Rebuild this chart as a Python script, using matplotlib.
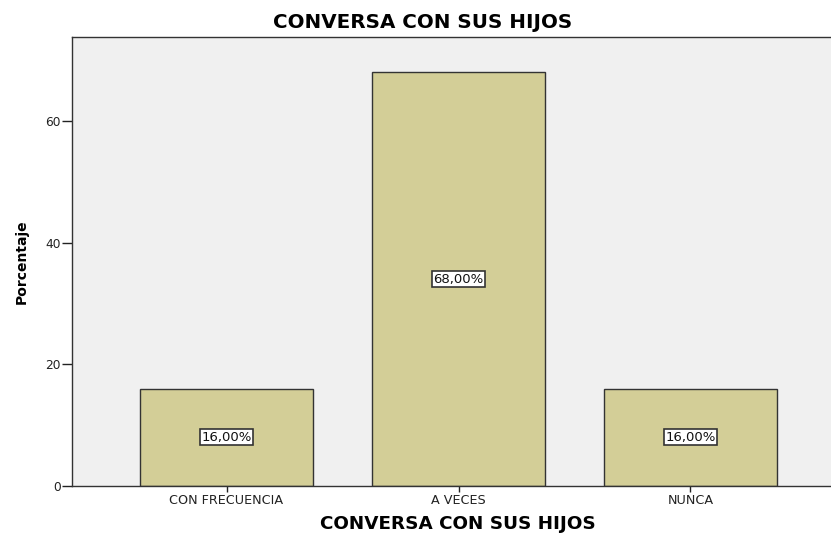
import matplotlib
matplotlib.use("Agg")
import matplotlib.pyplot as plt

categories = ["CON FRECUENCIA", "A VECES", "NUNCA"]
values = [16.0, 68.0, 16.0]
labels = ["16,00%", "68,00%", "16,00%"]
yticks = [0, 20, 40, 60]

plt.rcParams['font.family'] = ['DejaVu Sans']

W, H = 831, 534
fig = plt.figure(figsize=(W/100, H/100), dpi=100)
ax = fig.add_axes([72/W, 1-486/H, (845-72)/W, (486-37)/H])
ax.set_facecolor('#F0F0F0')

x = list(range(len(categories)))
ax.bar(x, values, width=0.746, color='#D3CE97', edgecolor='#333333', linewidth=1.0, zorder=2)
for xi, v, lab in zip(x, values, labels):
    ax.text(xi, v/2, lab, ha='center', va='center', fontsize=9.5, color='#111111',
            bbox=dict(boxstyle='square,pad=0.12', facecolor='white', edgecolor='#333333', linewidth=1.2),
            zorder=3)

ax.set_xlim(-0.666, 2.666)
ax.set_ylim(0, 73.8)
ax.set_xticks(x)
ax.set_xticklabels(categories, fontsize=9.2, color='#222222')
ax.set_yticks(yticks)
ax.set_yticklabels([str(t) for t in yticks], fontsize=8.8, color='#222222')
ax.tick_params(axis='x', length=4.5, width=1, color='#222222', pad=1.5)
ax.tick_params(axis='y', length=7, width=1, color='#222222', pad=1)
for s in ['left', 'bottom', 'top', 'right']:
    ax.spines[s].set_color('#333333')
    ax.spines[s].set_linewidth(1.0)

fig.text(423/W, 1-22/H, "CONVERSA CON SUS HIJOS", ha='center', va='center', fontsize=14.3, fontweight='bold')
fig.text(458/W, 1-524/H, "CONVERSA CON SUS HIJOS", ha='center', va='center', fontsize=13.2, fontweight='bold')
fig.text(22/W, 1-262/H, "Porcentaje", ha='center', va='center', rotation=90, fontsize=10, fontweight='bold')

fig.savefig("out.png", dpi=100)
